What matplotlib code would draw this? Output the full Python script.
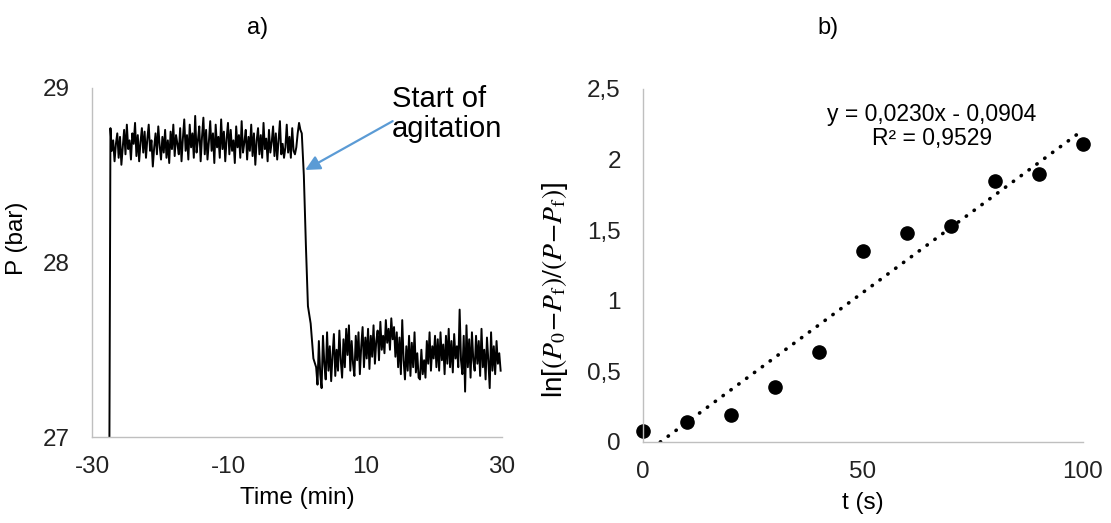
import matplotlib
matplotlib.use("Agg")
import matplotlib.pyplot as plt
import numpy as np
from matplotlib.ticker import FuncFormatter

plt.rcParams['font.family'] = ['Liberation Sans', 'DejaVu Sans']
plt.rcParams['mathtext.fontset'] = 'stix'
plt.rcParams['axes.unicode_minus'] = False

# a) pressure trace, values read off the picture (bar), sampled every 0.2 min
step_min = 0.2
high_start = -27.3
P_high = [28.77, 28.64, 28.70, 28.58, 28.68, 28.74, 28.60, 28.72, 28.56, 28.66,
          28.76, 28.62, 28.79, 28.65, 28.70, 28.59, 28.74, 28.68, 28.80, 28.61,
          28.73, 28.58, 28.69, 28.77, 28.63, 28.75, 28.60, 28.71, 28.79, 28.64,
          28.70, 28.55, 28.66, 28.74, 28.62, 28.78, 28.67, 28.59, 28.72, 28.63,
          28.76, 28.60, 28.70, 28.57, 28.75, 28.65, 28.79, 28.61, 28.73, 28.68,
          28.62, 28.77, 28.58, 28.71, 28.82, 28.64, 28.73, 28.59, 28.79, 28.66,
          28.74, 28.60, 28.84, 28.63, 28.70, 28.78, 28.58, 28.72, 28.83, 28.62,
          28.76, 28.59, 28.69, 28.81, 28.64, 28.74, 28.57, 28.79, 28.66, 28.72,
          28.60, 28.82, 28.65, 28.75, 28.58, 28.71, 28.80, 28.62, 28.76, 28.64,
          28.70, 28.57, 28.78, 28.66, 28.73, 28.60, 28.81, 28.63, 28.69, 28.76,
          28.59, 28.72, 28.64, 28.79, 28.61, 28.74, 28.56, 28.70, 28.77, 28.62,
          28.73, 28.60, 28.80, 28.65, 28.71, 28.58, 28.76, 28.63, 28.69, 28.78,
          28.61, 28.74, 28.59, 28.70, 28.81, 28.62, 28.68, 28.60, 28.66, 28.79,
          28.63, 28.72, 28.60, 28.77, 28.64, 28.62, 28.66, 28.74, 28.80, 28.76,
          28.74]
low_start = 2.8
P_low = [27.40, 27.30, 27.55, 27.36, 27.28, 27.58, 27.42, 27.33, 27.60, 27.38,
         27.52, 27.32, 27.47, 27.59, 27.35, 27.50, 27.38, 27.61, 27.44, 27.34,
         27.56, 27.40, 27.62, 27.47, 27.64, 27.38, 27.55, 27.42, 27.35, 27.58,
         27.44, 27.60, 27.36, 27.52, 27.63, 27.40, 27.57, 27.45, 27.62, 27.39,
         27.58, 27.46, 27.64, 27.42, 27.55, 27.61, 27.44, 27.66, 27.50, 27.58,
         27.48, 27.67, 27.54, 27.62, 27.50, 27.68, 27.56, 27.63, 27.46, 27.60,
         27.40, 27.57, 27.36, 27.67, 27.44, 27.33, 27.52, 27.38, 27.58, 27.35,
         27.54, 27.40, 27.60, 27.37, 27.48, 27.34, 27.33, 27.50, 27.36, 27.44,
         27.34, 27.55, 27.42, 27.60, 27.38, 27.52, 27.45, 27.58, 27.40, 27.56,
         27.38, 27.60, 27.44, 27.53, 27.36, 27.58, 27.42, 27.62, 27.40, 27.55,
         27.37, 27.59, 27.45, 27.52, 27.40, 27.73, 27.44, 27.36, 27.58, 27.26,
         27.64, 27.40, 27.56, 27.34, 27.60, 27.44, 27.38, 27.58, 27.42, 27.55,
         27.35, 27.62, 27.40, 27.50, 27.33, 27.57, 27.44, 27.28, 27.60, 27.38,
         27.52, 27.36, 27.55, 27.42, 27.48, 27.38]
t_rise = [-27.45]
P_rise = [27.0]
t_drop = [1.0, 1.3, 1.6, 2.0, 2.4]
P_drop = [28.5, 28.1, 27.75, 27.65, 27.45]

# b) first-order plot
t_s = [0, 10, 20, 30, 40, 50, 60, 70, 80, 90, 100]
ln_ratio = [0.075, 0.14, 0.19, 0.39, 0.64, 1.35, 1.48, 1.53, 1.85, 1.90, 2.11]
fit_slope = 0.0230
fit_icpt = -0.0904

t_min = np.concatenate([t_rise,
                        high_start + step_min * np.arange(len(P_high)),
                        t_drop,
                        low_start + step_min * np.arange(len(P_low))])
P_bar = np.concatenate([P_rise, P_high, P_drop, P_low])

fig = plt.figure(figsize=(11.11, 5.23), dpi=100)
ax1 = fig.add_axes([92/1111, 86/523, 410/1111, 349/523])
ax2 = fig.add_axes([643/1111, 81/523, 440/1111, 353/523])

grey = '#bfbfbf'
fs = 17.5
for ax in (ax1, ax2):
    for s in ('top', 'right'):
        ax.spines[s].set_visible(False)
    for s in ('left', 'bottom'):
        ax.spines[s].set_color(grey)
        ax.spines[s].set_linewidth(1.0)
    ax.tick_params(length=0, labelsize=fs, colors='#222222')
    ax.tick_params(axis='y', pad=16)
    ax.tick_params(axis='x', pad=14)

# panel a
ax1.plot(t_min, P_bar, color='black', lw=1.4)
ax1.set_xlim(-30, 30)
ax1.set_ylim(27, 29)
ax1.set_xticks([-30, -10, 10, 30])
ax1.set_yticks([27, 28, 29])
ax1.set_xlabel('Time (min)', fontsize=fs, labelpad=6)
ax1.set_ylabel('P (bar)', fontsize=fs)
ax1.yaxis.set_label_coords(-0.155, 0.57)
ax1.text(13.9, 29.02, 'Start of\nagitation', fontsize=21, ha='left', va='top',
         linespacing=1.12, clip_on=False)
ax1.annotate('', xy=(1.2, 28.53), xytext=(14.0, 28.81),
             arrowprops=dict(arrowstyle='-|>', color='#5b9bd5', lw=1.6,
                             mutation_scale=22, shrinkA=0, shrinkB=0))

# panel b
x_fit = np.linspace(-fit_icpt / fit_slope, 100, 50)
ax2.plot(x_fit, fit_slope * x_fit + fit_icpt, color='black', lw=2.6,
         linestyle=(0, (0.1, 2.6)), dash_capstyle='round')
ax2.plot(t_s, ln_ratio, 'o', color='black', ms=9.5, clip_on=False)
ax2.set_xlim(0, 100)
ax2.set_ylim(0, 2.5)
ax2.set_xticks([0, 50, 100])
ax2.set_yticks([0, 0.5, 1, 1.5, 2, 2.5])
ax2.yaxis.set_major_formatter(FuncFormatter(lambda v, p: f'{v:g}'.replace('.', ',')))
ax2.set_xlabel('t (s)', fontsize=fs, labelpad=6)
ax2.set_ylabel(r'ln[$(P_0\!-\!P_{\mathrm{f}})/(P\!-\!P_{\mathrm{f}})$]', fontsize=20)
ax2.yaxis.set_label_coords(-0.165, 0.43)
ax2.text(65.7, 2.235, 'y = 0,0230x - 0,0904\nR² = 0,9529', fontsize=16.5,
         ha='center', va='center', multialignment='center', linespacing=1.1)

fig.text(258/1111, 1 - 28/523, 'a)', fontsize=17, ha='center', va='center')
fig.text(828/1111, 1 - 28/523, 'b)', fontsize=17, ha='center', va='center')

fig.savefig('out.png', dpi=100)
